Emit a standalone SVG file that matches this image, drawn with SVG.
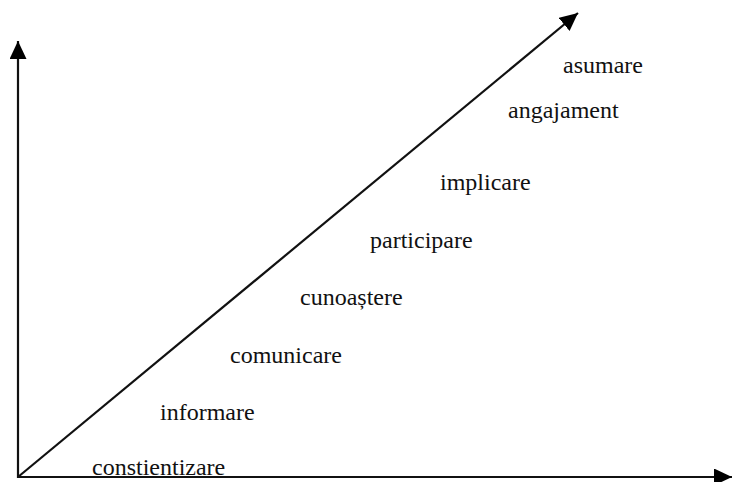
<svg xmlns="http://www.w3.org/2000/svg" width="734" height="482" viewBox="0 0 734 482">
<defs>
<marker id="ah" markerUnits="userSpaceOnUse" markerWidth="20" markerHeight="18" refX="18" refY="8.5" orient="auto">
<path d="M0,0 L18,8.5 L0,17 z" fill="#000"/>
</marker>
<style>
.ax{stroke:#111;stroke-width:2.2;fill:none}
.lb{font-family:"Liberation Serif","Times New Roman",serif;font-size:24px;fill:#111}
</style>
</defs>
<rect width="734" height="482" fill="#fff"/>
<g id="connectors">
<line class="ax" x1="18" y1="478" x2="18" y2="41" marker-end="url(#ah)"/>
<line class="ax" x1="18" y1="477" x2="732" y2="477" marker-end="url(#ah)"/>
<line class="ax" x1="18" y1="477" x2="578" y2="13" marker-end="url(#ah)"/>
</g>
<g id="n-asumare"><text class="lb" x="563" y="73">asumare</text></g>
<g id="n-angajament"><text class="lb" x="508" y="118">angajament</text></g>
<g id="n-implicare"><text class="lb" x="440" y="190">implicare</text></g>
<g id="n-participare"><text class="lb" x="370" y="248">participare</text></g>
<g id="n-cunoastere"><text class="lb" x="300" y="305">cunoaștere</text></g>
<g id="n-comunicare"><text class="lb" x="230" y="363">comunicare</text></g>
<g id="n-informare"><text class="lb" x="160" y="420">informare</text></g>
<g id="n-constientizare"><text class="lb" x="92" y="475">constientizare</text></g>
</svg>
